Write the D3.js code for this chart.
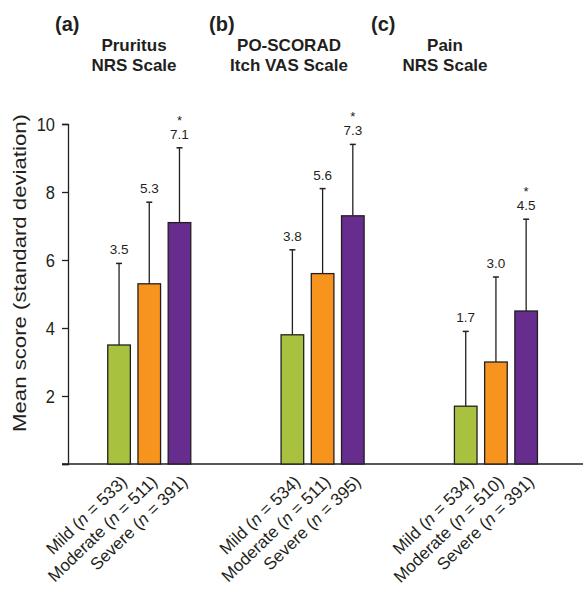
<!DOCTYPE html>
<html>
<head>
<meta charset="utf-8">
<script src="https://cdn.jsdelivr.net/npm/d3@7"></script>
<style>
  body { margin: 0; background: #fff; }
  svg text { font-family: "Liberation Sans", Arial, Helvetica, sans-serif; fill: #231f20; }
</style>
</head>
<body>
<div id="chart"></div>
<script>
// scales: one panel per questionnaire
var scales = ["a", "b", "c"];
var panelLetters = ["(a)", "(b)", "(c)"];
var titleLines = [["Pruritus", "NRS Scale"], ["PO-SCORAD", "Itch VAS Scale"], ["Pain", "NRS Scale"]];

// severity groups
var severities = ["Mild", "Moderate", "Severe"];
var colors = ["#a8c23f", "#f7941e", "#662d8f"];

// mean scores and standard deviations, per scale (rows) and severity (cols)
var means = [[3.5, 5.3, 7.1], [3.8, 5.6, 7.3], [1.7, 3.0, 4.5]];
var sds = [[2.4, 2.4, 2.2], [2.5, 2.5, 2.1], [2.2, 2.5, 2.7]];
var counts = [[533, 511, 391], [534, 511, 395], [534, 510, 391]];
var significant = [[false, false, true], [false, false, true], [false, false, true]];

var yTicks = [0, 2, 4, 6, 8, 10];

var width = 583, height = 592;
var svg = d3.select("#chart").append("svg")
    .attr("width", width)
    .attr("height", height);

var y = d3.scaleLinear().domain([0, 10]).range([464, 124]);

var x0 = d3.scaleBand().domain(scales).range([62.6, 582.6]).paddingInner(0.521).paddingOuter(0.2605);
var x1 = d3.scaleBand().domain(severities).range([0, x0.bandwidth()]).paddingInner(0.252).paddingOuter(0);

// flatten for drawing
var rows = [];
scales.forEach(function (s, i) {
    severities.forEach(function (sev, j) {
        rows.push({ scale: s, sev: sev, mean: means[i][j], sd: sds[i][j], n: counts[i][j],
            star: significant[i][j], color: colors[j] });
    });
});

function cx(d) { return x0(d.scale) + x1(d.sev) + x1.bandwidth() / 2; }

// x baseline
svg.append("line")
    .attr("x1", 62).attr("x2", 583)
    .attr("y1", y(0)).attr("y2", y(0))
    .attr("stroke", "#231f20").attr("stroke-width", 1.3);

// y axis
var yAxis = svg.append("g")
    .attr("transform", "translate(68,0)")
    .call(d3.axisLeft(y).tickValues(yTicks).tickSize(6).tickPadding(7)
        .tickFormat(function (d) { return d === 0 ? "" : d; }));
yAxis.select(".domain").attr("stroke", "#231f20").attr("stroke-width", 1.3);
yAxis.selectAll(".tick line").attr("stroke", "#231f20").attr("stroke-width", 1.3);
// the source figure is slightly taller than wide, so stretch the glyphs a bit
yAxis.selectAll(".tick text")
    .style("font-size", "16.5px")
    .attr("fill", "#231f20")
    .attr("dy", null)
    .attr("y", 0)
    .attr("transform", "translate(0,6) scale(1,1.12)");

svg.append("text")
    .attr("transform", "translate(26,273) rotate(-90)")
    .attr("text-anchor", "middle")
    .attr("textLength", 318)
    .attr("lengthAdjust", "spacingAndGlyphs")
    .style("font-size", "18px")
    .text("Mean score (standard deviation)");

// error bars (upper only)
var err = svg.append("g").attr("class", "errors");
err.selectAll("line.stem").data(rows).enter().append("line")
    .attr("class", "stem")
    .attr("x1", cx).attr("x2", cx)
    .attr("y1", function (d) { return y(d.mean); })
    .attr("y2", function (d) { return y(d.mean + d.sd); })
    .attr("stroke", "#231f20").attr("stroke-width", 1.3);
err.selectAll("line.cap").data(rows).enter().append("line")
    .attr("class", "cap")
    .attr("x1", function (d) { return cx(d) - 3; })
    .attr("x2", function (d) { return cx(d) + 3; })
    .attr("y1", function (d) { return y(d.mean + d.sd); })
    .attr("y2", function (d) { return y(d.mean + d.sd); })
    .attr("stroke", "#231f20").attr("stroke-width", 1.5);

// bars
svg.append("g").selectAll("rect").data(rows).enter().append("rect")
    .attr("x", function (d) { return x0(d.scale) + x1(d.sev); })
    .attr("y", function (d) { return y(d.mean); })
    .attr("width", x1.bandwidth())
    .attr("height", function (d) { return y(0) - y(d.mean); })
    .attr("fill", function (d) { return d.color; })
    .attr("stroke", "#231f20").attr("stroke-width", 1.3);

// value labels
var labels = svg.append("g");
labels.selectAll("text.val").data(rows).enter().append("text")
    .attr("class", "val")
    .attr("x", cx)
    .attr("y", function (d) { return y(d.mean + d.sd) - 9; })
    .attr("text-anchor", "middle")
    .style("font-size", "13.5px")
    .text(function (d) { return d.mean.toFixed(1); });
labels.selectAll("text.star").data(rows.filter(function (d) { return d.star; })).enter().append("text")
    .attr("class", "star")
    .attr("x", cx)
    .attr("y", function (d) { return y(d.mean + d.sd) - 9 - 14; })
    .attr("text-anchor", "middle")
    .style("font-size", "13px")
    .text("*");

// rotated category labels
var xl = svg.append("g").selectAll("text").data(rows).enter().append("text")
    .attr("transform", function (d) { return "translate(" + (cx(d) + 9) + ",483) rotate(-44)"; })
    .attr("text-anchor", "end")
    .style("font-size", "17px");
xl.append("tspan").text(function (d) { return d.sev + " ("; });
xl.append("tspan").style("font-style", "italic").text("n");
xl.append("tspan").text(function (d) { return " = " + d.n + ")"; });

// panel titles
var panelX = [55, 209, 371];
var titleX = [134, 289, 445];
var head = svg.append("g").selectAll("g").data(scales).enter().append("g");
head.append("text")
    .attr("x", function (d, i) { return panelX[i]; })
    .attr("y", 31)
    .style("font-size", "20px").style("font-weight", "bold")
    .text(function (d, i) { return panelLetters[i]; });
head.selectAll("text.t").data(function (d, i) { return titleLines[i].map(function (t) { return { t: t, i: i }; }); })
    .enter().append("text")
    .attr("class", "t")
    .attr("x", function (d) { return titleX[d.i]; })
    .attr("y", function (d, k) { return 51 + k * 20; })
    .attr("text-anchor", "middle")
    .style("font-size", "17px").style("font-weight", "bold")
    .text(function (d) { return d.t; });
</script>
</body>
</html>
